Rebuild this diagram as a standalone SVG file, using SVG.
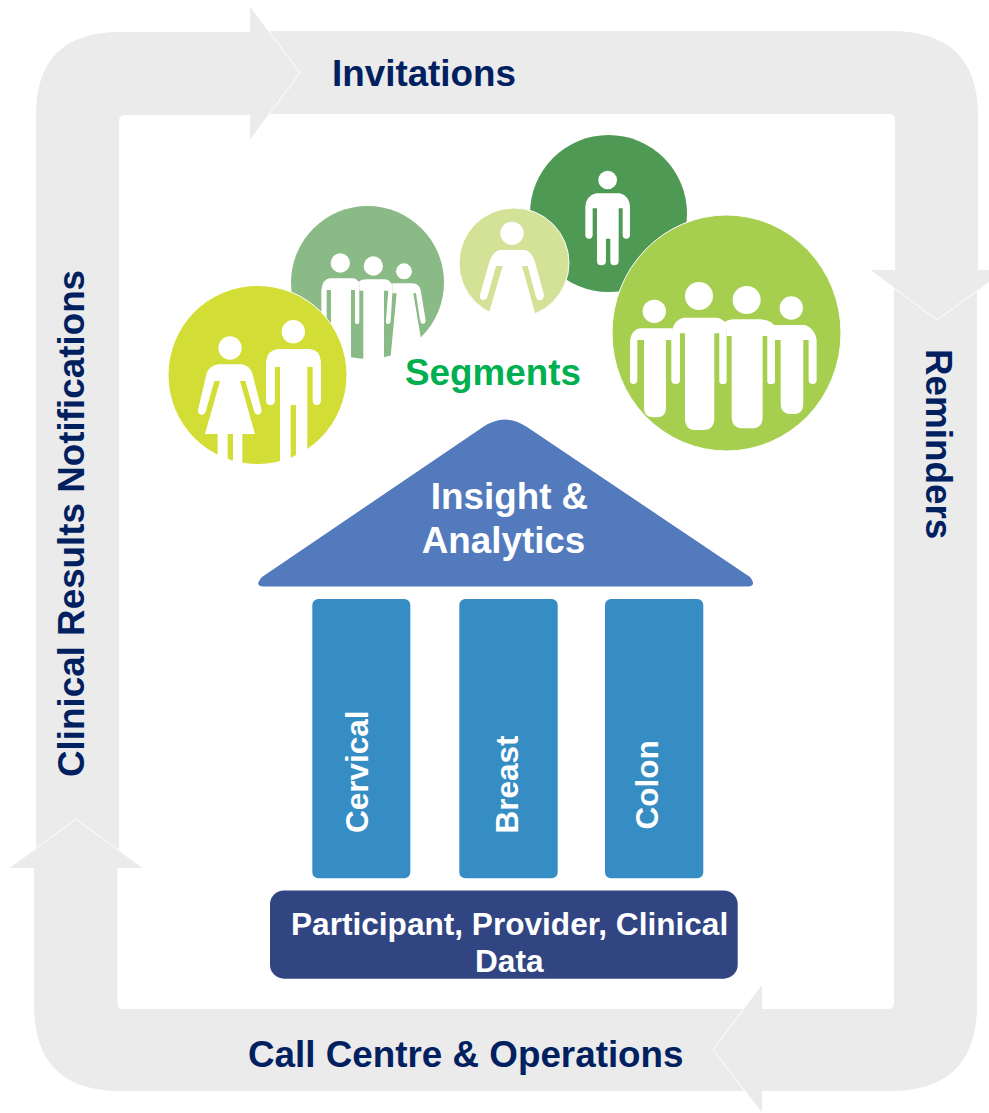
<svg xmlns="http://www.w3.org/2000/svg" width="989" height="1113" viewBox="0 0 989 1113">
<style>
text{font-family:"Liberation Sans",Arial,sans-serif;font-weight:700;font-size:36.8px}
.lab{fill:#002060}
.wt{fill:#fff}
.pil{font-size:31.5px}
.bs{font-size:31.6px}
.band{fill:#ebebeb}
.tip{fill:none;stroke:#fff;stroke-width:1}
.fig{fill:#fff}
.ring{stroke:#fff;stroke-width:1}
</style>
<rect width="989" height="1113" fill="#fff"/>
<g id="connectors">
<path class="band" d="M36,855V115Q36,32 120,32H250V6L300,73L250,140V115H125Q119,115 119,121V855Z"/>
<path class="band" d="M270,31H890Q978,31 978,115V270H989V283L937,320L870,270H895V120Q895,114 889,114H270Z"/>
<path class="band" d="M894,285H977V1005Q977,1091 890,1091H762V1113L713,1050L762,984V1009H888Q894,1009 894,1003Z"/>
<path class="band" d="M745,1009V1091H120Q34,1091 34,1005V868H9L76,819L143,868H117.5V1003Q117.5,1009 123,1009Z"/>
<polyline class="tip" points="250,6 300,73 250,140"/>
<polyline class="tip" points="870,270 937,320 989,282"/>
<polyline class="tip" points="762,984 713,1050 762,1113"/>
<polyline class="tip" points="9,868 76,819 143,868"/>
</g>
<g id="label-invitations"><text class="lab" x="332" y="86">Invitations</text></g>
<g id="label-reminders"><text class="lab" transform="translate(926,349) rotate(90)">Reminders</text></g>
<g id="label-call-centre"><text class="lab" x="248" y="1067">Call Centre &amp; Operations</text></g>
<g id="label-notifications"><text class="lab" transform="translate(84,777) rotate(-90)">Clinical Results Notifications</text></g>

<g id="segment-dark">
<circle cx="608.5" cy="213.5" r="78.5" fill="#4e9a54"/>
<g class="fig" transform="translate(450,130) scale(.3333)">
<circle cx="473" cy="150" r="28"/>
<path d="M406,230Q408,198 438,190H510Q538,198 540,230V315Q540,326 529,326Q518,326 518,315V235H506V392Q506,406 492,406Q481,406 481,392V326H468V392Q468,406 454,406Q441,406 441,392V235H428V315Q428,326 417,326Q406,326 406,315Z"/>
</g>
</g>
<g id="segment-mid">
<circle cx="367.5" cy="282.5" r="76.5" fill="#8aba85"/>
<g class="fig" transform="translate(160,130) scale(.3333)">
<circle cx="541" cy="399" r="29"/><circle cx="640" cy="408" r="29"/><circle cx="732" cy="424" r="24"/>
<path d="M484,480Q488,447 510,445H580Q592,447 598,460V575Q598,582 590,582Q585,582 585,575V480H573V700H513V480H500V600H484Z"/>
<path d="M595,455Q605,448 620,448H675Q690,450 697,465V490L692,575Q688,584 682,582Q677,580 678,572L685,482H672V700H610V482H598V460Z"/>
<path d="M697,460H760Q778,463 782,480L797,570Q796,584 787,581Q782,580 780,570L768,490H760L782,620V700H690L710,490H697Z"/>
</g>
</g>
<g id="segment-pale">
<circle cx="514" cy="263" r="55" fill="#d3e296" class="ring"/>
<g class="fig" transform="translate(450,130) scale(.3333)">
<circle cx="186" cy="310" r="35"/>
<path d="M118,395Q128,365 150,360H225Q245,365 255,395L282,495Q280,512 268,511Q260,510 257,498L233,408H216L255,548V575H118V545L158,408H138L113,498Q108,512 98,510Q88,508 90,495Z"/>
</g>
</g>
<g id="segment-lime">
<circle cx="257.5" cy="375" r="89.5" fill="#d2de36" class="ring"/>
<g class="fig" transform="translate(160,130) scale(.3333)">
<circle cx="210" cy="654" r="35"/><circle cx="400" cy="605" r="35"/>
<path d="M140,730Q150,706 175,703H245Q268,706 277,730L305,840Q303,855 293,854Q285,853 283,845L256,753H240L285,912H247V1010H219V912H203V1010H173V912H135L180,753H163L137,845Q133,855 123,854Q113,852 114,840Z"/>
<path d="M318,695Q322,660 355,657H450Q480,660 483,695V810Q483,825 470,825Q458,825 458,810V711H442V1010H408V825H392V1010H360V711H345V810Q345,825 331,825Q318,825 318,810Z"/>
</g>
</g>
<g id="segment-large">
<ellipse cx="726.5" cy="333" rx="114.5" ry="118" fill="#a6cf4f" class="ring"/>
<g class="fig" transform="translate(450,130) scale(.3333)">
<circle cx="613" cy="544" r="35"/><circle cx="747" cy="498" r="42"/><circle cx="890" cy="510" r="42"/><circle cx="1024" cy="534" r="35"/>
<path d="M540,630Q545,600 570,595H668V600H690V750Q690,762 678,762Q664,762 664,750V630H648V835Q648,862 620,862H610Q582,862 582,835V630H562V750Q562,762 550,762Q540,762 540,750Z"/>
<path d="M668,595Q675,570 700,563H800Q815,565 830,580V755Q830,762 820,762Q808,762 808,755V610H793V865Q793,900 760,900H735Q705,900 705,865V610H690V600H668Z"/>
<path d="M820,580Q830,570 850,568H930Q965,570 975,590V755Q975,762 963,762Q952,762 952,755V618H938V860Q938,895 905,895H880Q845,895 845,860V618H830V600Z"/>
<path d="M970,585H1065Q1095,595 1100,630V750Q1100,762 1088,762Q1076,762 1076,750V630H1060V820Q1060,852 1035,852H1020Q992,852 992,820V630H975V590Z"/>
</g>
</g>
<g id="label-segments"><text x="405" y="385" fill="#00b050">Segments</text></g>

<g id="roof">
<path d="M262,577L483,427Q505,412 527,427L750,577Q757,586 748,586.5H263Q254,586 262,577Z" fill="#527abd"/>
<text class="wt" text-anchor="middle" x="509.5" y="509">Insight &amp;</text>
<text class="wt" text-anchor="middle" x="503.5" y="553">Analytics</text>
</g>
<g id="pillar-cervical">
<rect x="312.3" y="599" width="98" height="279.3" rx="6" fill="#358dc4"/>
<text class="wt pil" transform="translate(368,833) rotate(-90)">Cervical</text>
</g>
<g id="pillar-breast">
<rect x="459.3" y="599" width="98.4" height="279.3" rx="6" fill="#358dc4"/>
<text class="wt pil" transform="translate(518,833.5) rotate(-90)">Breast</text>
</g>
<g id="pillar-colon">
<rect x="605" y="599" width="98.3" height="279.3" rx="6" fill="#358dc4"/>
<text class="wt pil" transform="translate(658,829.5) rotate(-90)">Colon</text>
</g>
<g id="base">
<rect x="270" y="890.5" width="467.7" height="88.2" rx="14" fill="#314583"/>
<text class="wt bs" x="291" y="935">Participant, Provider, Clinical</text>
<text class="wt bs" x="475" y="972">Data</text>
</g>
</svg>
